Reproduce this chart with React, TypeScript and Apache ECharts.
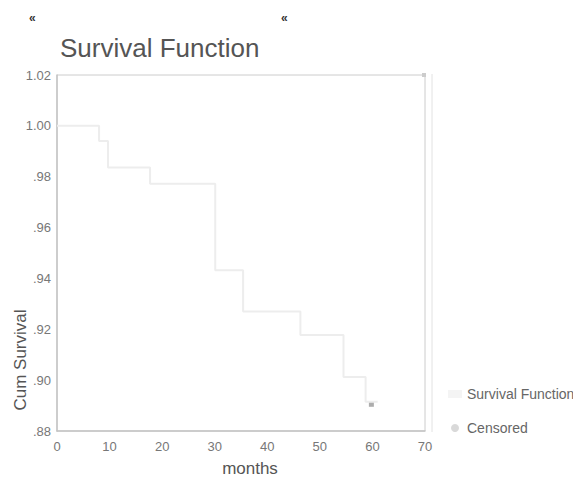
import React, { useEffect, useRef } from "react";
import * as echarts from "echarts";

const eventTimes = [0, 8, 9.7, 17.7, 30.1, 35.4, 46.3, 54.5, 58.7, 61];
const cumSurvival = [1.0, 0.994, 0.9836, 0.9772, 0.9432, 0.927, 0.9178, 0.9012, 0.8915, 0.8915];
const censoredTimes = [59.8];
const censoredSurvival = [0.8905];
const xTicks = [0, 10, 20, 30, 40, 50, 60, 70];
const yTicks = [0.88, 0.9, 0.92, 0.94, 0.96, 0.98, 1.0, 1.02];

const FONT = "'Liberation Sans', Arial, sans-serif";

function fmtY(v: number): string {
  const s = v.toFixed(2);
  return s.startsWith("0") ? s.slice(1) : s;
}

export default function App() {
  const ref = useRef<HTMLDivElement>(null);
  useEffect(() => {
    document.body.style.margin = "0";
    document.body.style.overflow = "hidden";
    if (!ref.current) return;
    const chart = echarts.init(ref.current, null, { renderer: "svg" });
    const option = {
      animation: false,
      backgroundColor: "#ffffff",
      title: {
        text: "Survival Function",
        left: 55,
        top: 30,
        textStyle: { fontFamily: FONT, fontSize: 26, fontWeight: "normal", color: "#555555" },
      },
      grid: {
        left: 57,
        top: 75,
        width: 368,
        height: 356,
        show: true,
        borderColor: "#cccccc",
        borderWidth: 1,
      },
      xAxis: {
        type: "value",
        min: xTicks[0],
        max: xTicks[xTicks.length - 1],
        interval: 10,
        axisLine: { show: true, lineStyle: { color: "#c4c4c4", width: 1.5 } },
        axisTick: { show: false },
        splitLine: { show: false },
        axisLabel: { color: "#777777", fontSize: 13, fontFamily: FONT, margin: 9 },
      },
      yAxis: {
        type: "value",
        min: yTicks[0],
        max: yTicks[yTicks.length - 1],
        interval: 0.02,
        axisLine: { show: true, lineStyle: { color: "#c4c4c4", width: 1.5 } },
        axisTick: { show: false },
        splitLine: { show: false },
        axisLabel: {
          color: "#777777",
          fontSize: 13,
          fontFamily: FONT,
          margin: 6,
          formatter: (v: number) => fmtY(v),
        },
      },
      legend: {
        orient: "vertical",
        left: 443,
        top: 382,
        itemWidth: 14,
        itemHeight: 8,
        itemGap: 20,
        textStyle: { fontFamily: FONT, fontSize: 14, color: "#666666" },
        data: [
          { name: "Survival Function", icon: "rect", itemStyle: { color: "#f4f4f4" } },
          { name: "Censored", icon: "circle", itemStyle: { color: "#d0d0d0" } },
        ],
      },
      series: [
        {
          name: "Survival Function",
          type: "line",
          step: "end",
          showSymbol: false,
          symbol: "none",
          data: eventTimes.map((t, i) => [t, cumSurvival[i]]),
          lineStyle: { color: "#ededed", width: 2 },
          itemStyle: { color: "#ededed" },
        },
        {
          name: "Censored",
          type: "scatter",
          symbol: "rect",
          symbolSize: 5,
          data: censoredTimes.map((t, i) => [t, censoredSurvival[i]]),
          itemStyle: { color: "#999999" },
        },
      ],
      graphic: [
        {
          type: "text",
          left: 29,
          top: 12,
          style: { text: "«", fontSize: 12, fontWeight: "bold", fill: "#333333", fontFamily: FONT },
        },
        {
          type: "text",
          left: 281,
          top: 12,
          style: { text: "«", fontSize: 12, fontWeight: "bold", fill: "#333333", fontFamily: FONT },
        },
        {
          type: "text",
          x: 20,
          y: 360,
          rotation: Math.PI / 2,
          style: {
            text: "Cum Survival",
            fontSize: 17,
            fill: "#555555",
            fontFamily: FONT,
            align: "center",
            verticalAlign: "middle",
          },
        },
        {
          type: "text",
          x: 250,
          y: 468,
          style: {
            text: "months",
            fontSize: 17,
            fill: "#555555",
            fontFamily: FONT,
            align: "center",
            verticalAlign: "middle",
          },
        },
        {
          type: "line",
          shape: { x1: 432, y1: 74, x2: 432, y2: 432 },
          style: { stroke: "#e2e2e2", lineWidth: 1 },
        },
        {
          type: "rect",
          shape: { x: 422, y: 73, width: 4, height: 4 },
          style: { fill: "#cccccc" },
        },
      ],
    };
    chart.setOption(option as any);
    return () => chart.dispose();
  }, []);
  return <div ref={ref} style={{ width: 573, height: 478 }} />;
}
